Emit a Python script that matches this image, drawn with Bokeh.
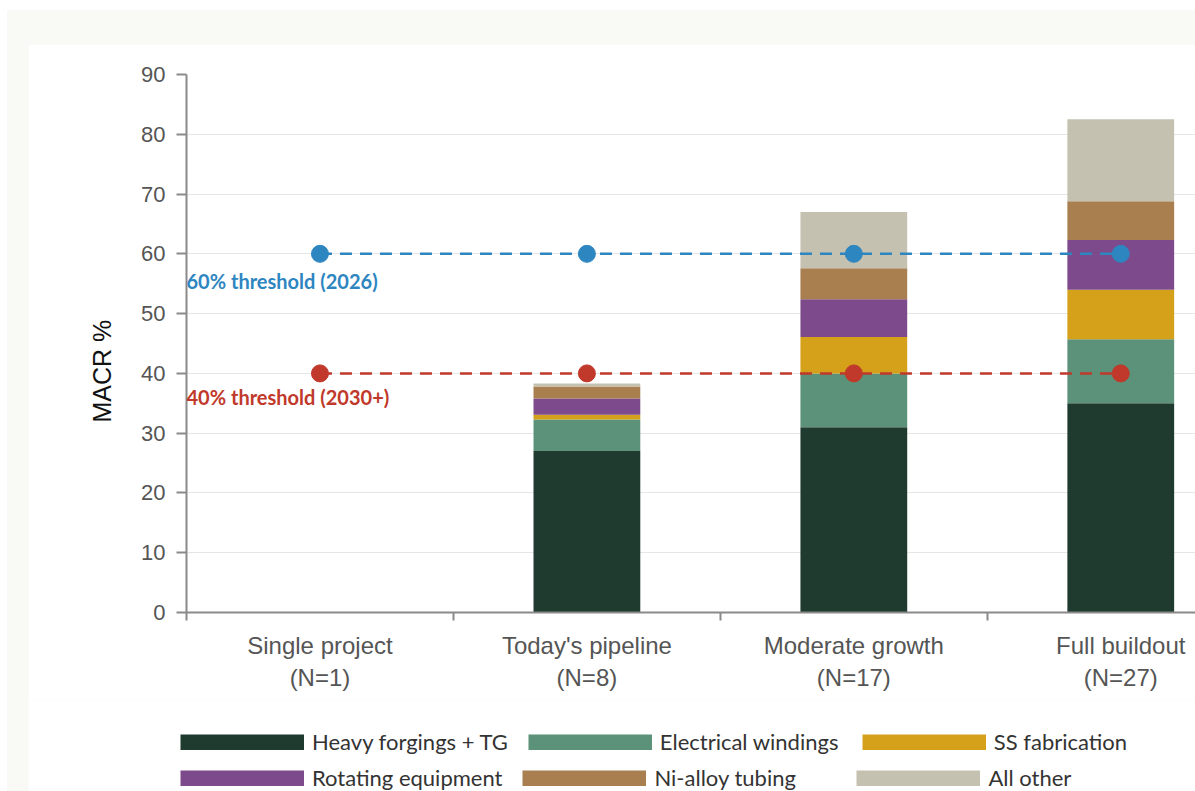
from bokeh.embed import file_html
from bokeh.layouts import column, row
from bokeh.models import (ColumnDataSource, FixedTicker, Label, Legend,
                          LegendItem, Range1d, Title)
from bokeh.plotting import figure
from bokeh.resources import INLINE

# ---- data -------------------------------------------------------------
categories = [
    "Single project\n(N=1)",
    "Today's pipeline\n(N=8)",
    "Moderate growth\n(N=17)",
    "Full buildout\n(N=27)",
]
series_names = [
    "Heavy forgings + TG",
    "Electrical windings",
    "SS fabrication",
    "Rotating equipment",
    "Ni-alloy tubing",
    "All other",
]
heavy_forgings = [0.0, 27.0, 31.0, 35.0]
electrical_windings = [0.0, 5.3, 9.0, 10.7]
ss_fabrication = [0.0, 0.8, 6.1, 8.3]
rotating_equipment = [0.0, 2.7, 6.3, 8.3]
ni_alloy_tubing = [0.0, 2.0, 5.2, 6.5]
all_other = [0.0, 0.5, 9.4, 13.7]

threshold_2026 = 60
threshold_2030 = 40
y_ticks = [0, 10, 20, 30, 40, 50, 60, 70, 80, 90]

# ---- styling ----------------------------------------------------------
series_colors = ["#1F3A2F", "#5B9279", "#D6A11A", "#7D4A8B", "#A97F50", "#C5C1B0"]
blue = "#2E86C1"
red = "#C0392B"
axis_grey = "#8A8A8A"

centers = [i + 0.5 for i in range(len(categories))]
boundaries = [float(i) for i in range(len(categories))]

keys = ["heavy", "electrical", "ss", "rotating", "ni", "other"]
source = ColumnDataSource(dict(
    x=centers,
    heavy=heavy_forgings,
    electrical=electrical_windings,
    ss=ss_fabrication,
    rotating=rotating_equipment,
    ni=ni_alloy_tubing,
    other=all_other,
))

# ---- main chart ---------------------------------------------------------
p = figure(
    width=1167, height=656,
    x_range=Range1d(0, 3.78), y_range=Range1d(0, 90),
    output_backend="svg", toolbar_location=None,
    min_border_left=158, min_border_top=30,
    min_border_right=0, min_border_bottom=88,
    background_fill_color="white", border_fill_color="white",
    outline_line_color=None,
)

p.vbar_stack(keys, x="x", width=0.4, source=source,
             fill_color=series_colors, line_color=None)

# threshold reference lines
for level, col in ((threshold_2026, blue), (threshold_2030, red)):
    ys = [level] * len(centers)
    p.line(centers, ys, line_color=col, line_width=2.5, line_dash="12 8")
    p.scatter(centers, ys, size=17, fill_color=col, line_color=col)

yax = p.yaxis[0]
yax.ticker = FixedTicker(ticks=y_ticks)
yax.axis_line_color = axis_grey
yax.axis_line_width = 2
yax.major_tick_line_color = axis_grey
yax.major_tick_line_width = 2
yax.major_tick_out = 10
yax.major_tick_in = 0
yax.minor_tick_line_color = None
yax.major_label_standoff = 11
yax.major_label_text_font = "Liberation Sans"
yax.major_label_text_font_size = "22px"
yax.major_label_text_color = "#555555"

# vertical axis title, sitting a little below mid-height
p.add_layout(Title(
    text="MACR %", align="left", offset=190, standoff=46,
    text_font="Liberation Sans", text_font_size="25px",
    text_font_style="normal", text_color="#111111",
), "left")

xax = p.xaxis[0]
xax.ticker = FixedTicker(ticks=centers, minor_ticks=boundaries)
xax.major_label_overrides = {c: lab for c, lab in zip(centers, categories)}
xax.axis_line_color = axis_grey
xax.axis_line_width = 2
xax.major_tick_line_color = None
xax.major_tick_out = 0
xax.major_tick_in = 0
xax.minor_tick_line_color = axis_grey
xax.minor_tick_line_width = 2
xax.minor_tick_out = 8
xax.minor_tick_in = 0
xax.major_label_standoff = 11
xax.major_label_text_font = "Liberation Sans"
xax.major_label_text_font_size = "24px"
xax.major_label_text_color = "#555555"

p.xgrid.visible = False
p.ygrid.grid_line_color = "#E6E6E6"
p.ygrid.grid_line_width = 1

# threshold captions
p.add_layout(Label(
    x=0, y=threshold_2026, x_offset=0, y_offset=-27,
    text="60% threshold (2026)", text_align="left", text_baseline="alphabetic",
    text_font="Lato", text_font_style="bold", text_font_size="20px",
    text_color=blue,
))
p.add_layout(Label(
    x=0, y=threshold_2030, x_offset=0, y_offset=-24,
    text="40% threshold (2030+)", text_align="left", text_baseline="alphabetic",
    text_font="Lato", text_font_style="bold", text_font_size="20px",
    text_color=red,
))

# ---- legend strip underneath ---------------------------------------------
leg_fig = figure(
    width=1167, height=91, x_range=Range1d(0, 1), y_range=Range1d(0, 1),
    output_backend="svg", toolbar_location=None,
    x_axis_location=None, y_axis_location=None,
    min_border=0, outline_line_color=None,
    background_fill_color="white", border_fill_color="white",
)
leg_fig.grid.visible = False
nan = float("nan")
# legend-only swatch renderers (no visible marks); a thick line gives a
# solid block that fills the whole glyph box
swatches = [
    leg_fig.line(x=[nan], y=[nan], line_color=c, line_width=16)
    for c in series_colors
]


def legend_row(idx, y_loc):
    items = [LegendItem(label=series_names[i], renderers=[swatches[i]]) for i in idx]
    return Legend(
        items=items, orientation="horizontal", location=(152, y_loc),
        glyph_width=124, glyph_height=16, label_standoff=8, spacing=20,
        padding=0, margin=0, border_line_color=None, background_fill_alpha=0,
        label_text_font="Lato", label_text_font_size="22px",
        label_text_color="#333333", label_width=182, label_height=24,
    )


leg_fig.add_layout(legend_row([0, 1, 2], 36))
leg_fig.add_layout(legend_row([3, 4, 5], 0))

p.margin = (34, 0, 0, 21)
leg_fig.margin = (0, 0, 0, 21)
page = column(p, row(leg_fig), margin=(10, 0, 0, 7), spacing=0,
              styles={"background-color": "#F9F9F6"})

with open("out.html", "w") as f:
    f.write(file_html(page, INLINE))
